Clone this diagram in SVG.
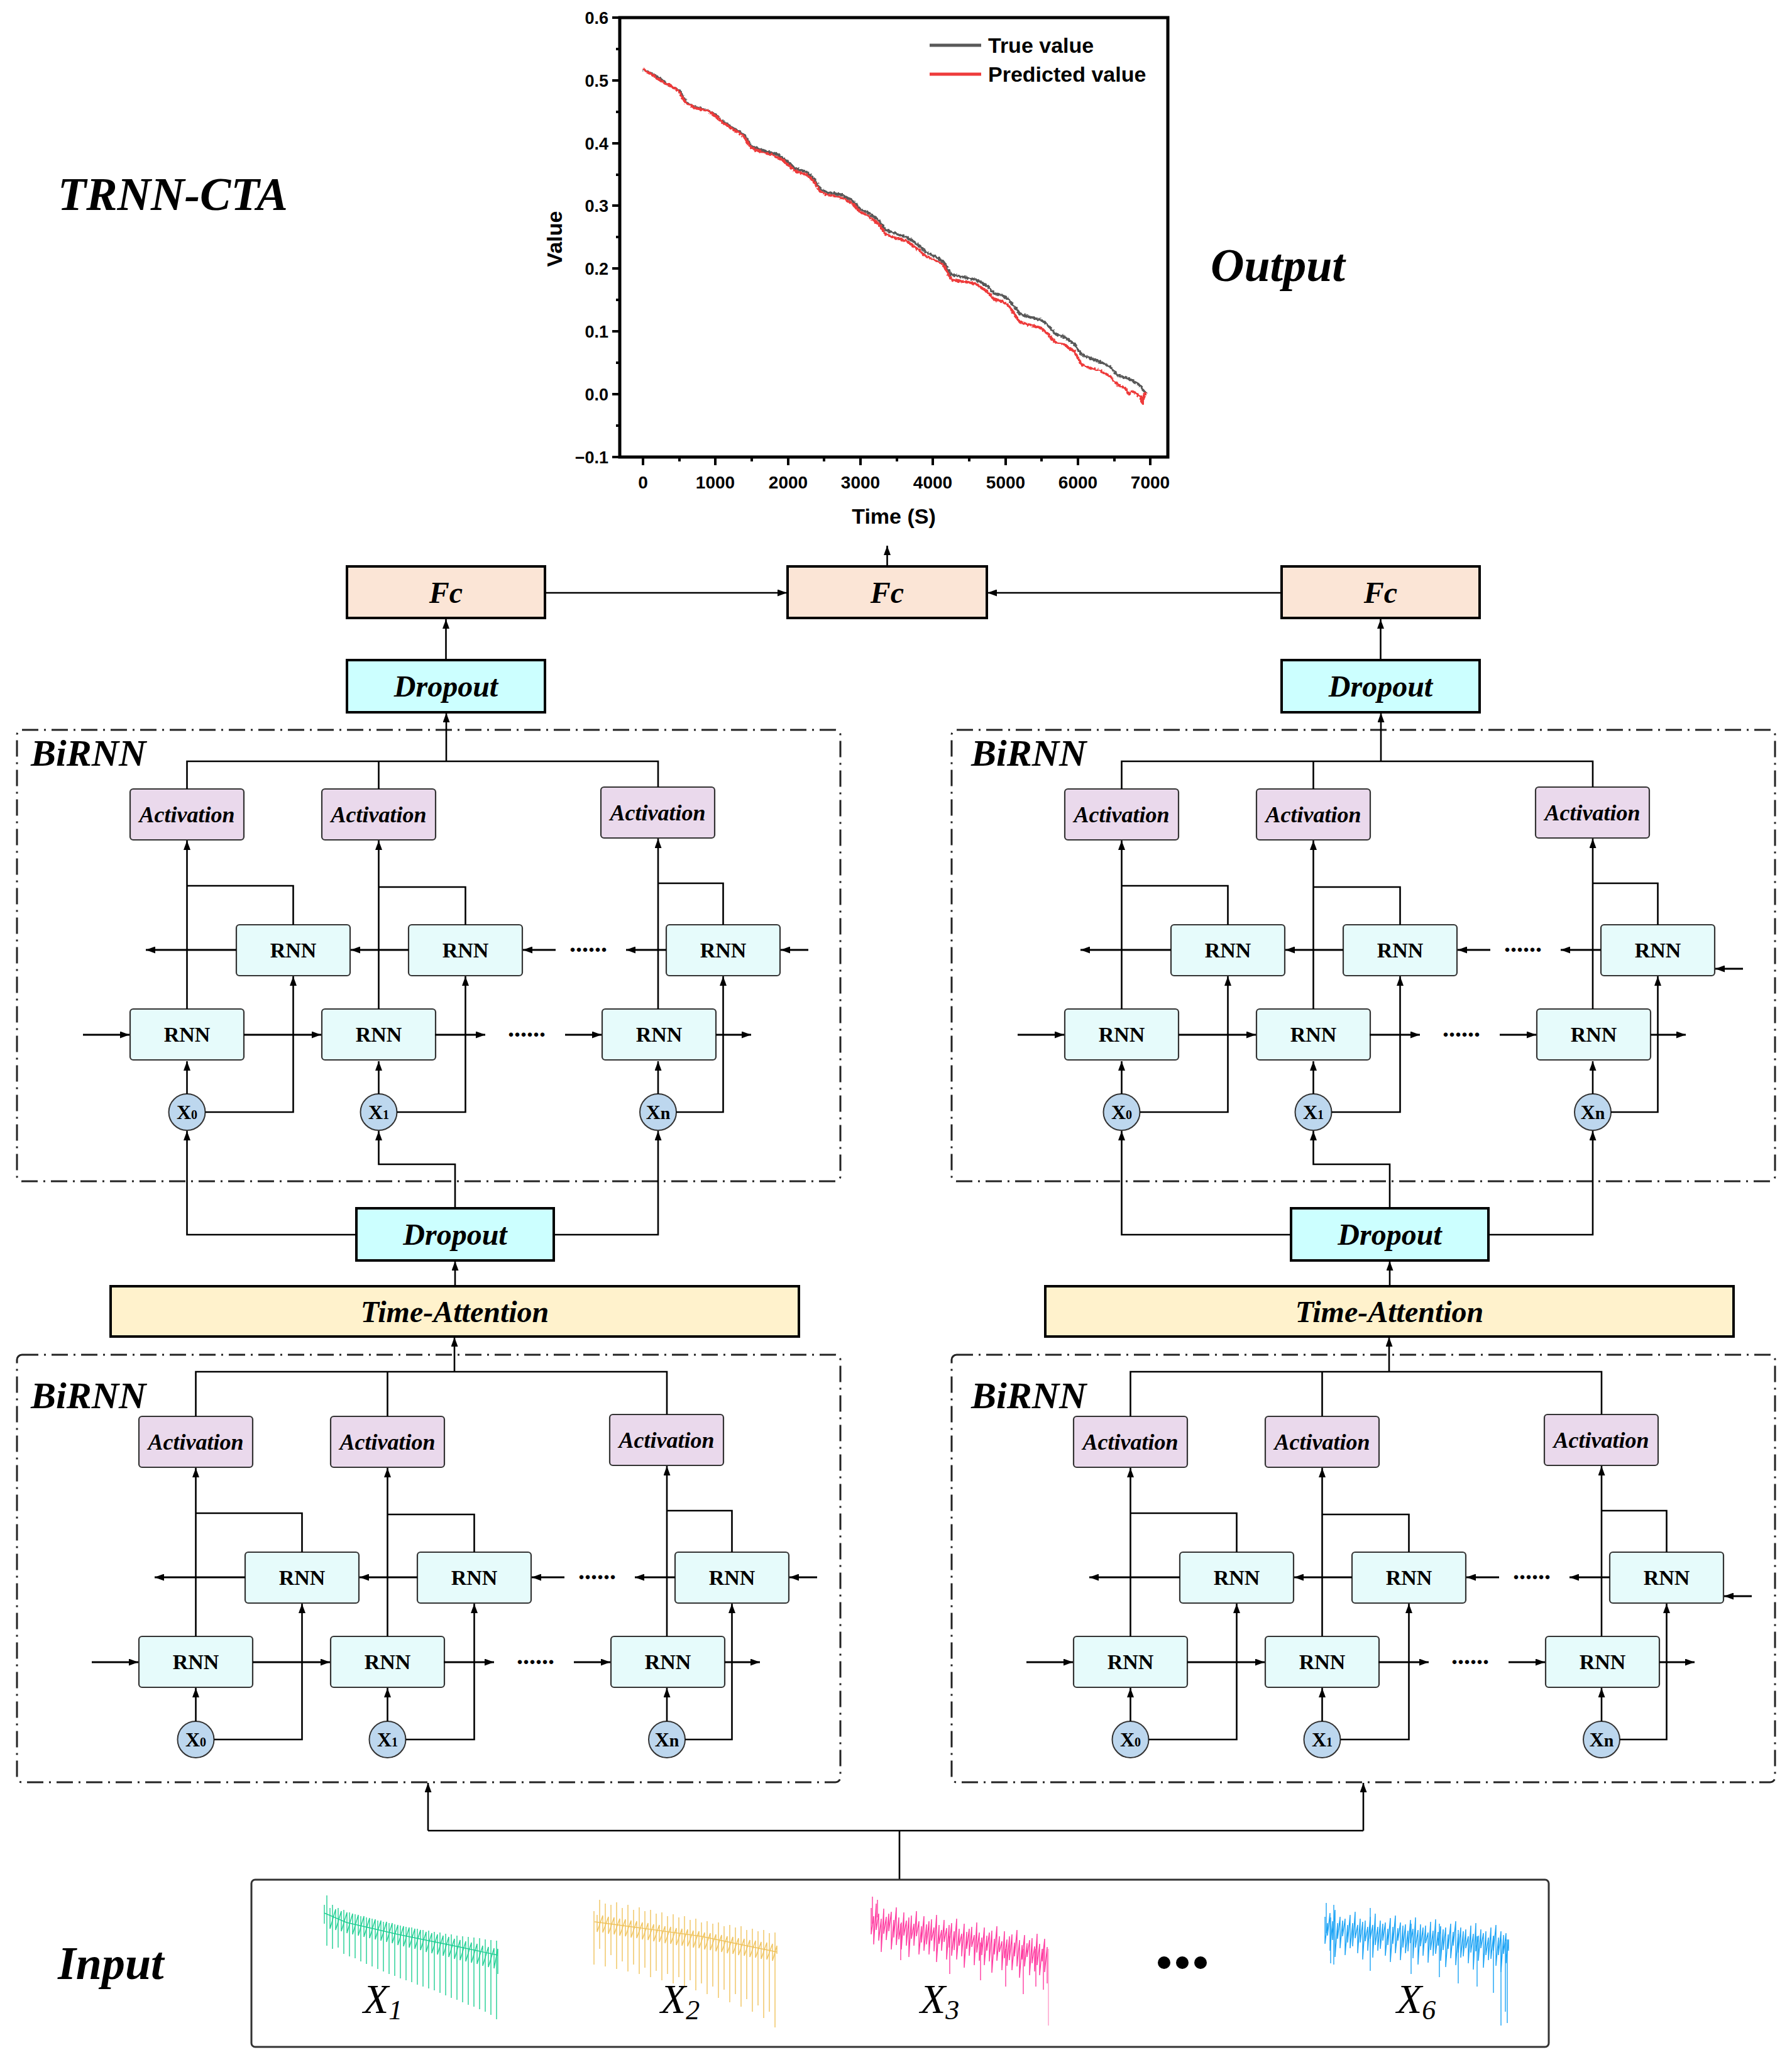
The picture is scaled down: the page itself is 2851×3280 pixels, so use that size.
<svg xmlns="http://www.w3.org/2000/svg" width="2851" height="3280" viewBox="0 0 2851 3280">
<defs>
<marker id="ah" markerWidth="15" markerHeight="11" refX="15" refY="5.5" orient="auto" markerUnits="userSpaceOnUse"><path d="M0,0 L15,5.5 L0,11 z" fill="#000"/></marker>
<filter id="jit" x="-5%" y="-5%" width="110%" height="110%"><feTurbulence type="fractalNoise" baseFrequency="0.3" numOctaves="1" seed="4"/><feDisplacementMap in="SourceGraphic" scale="6" xChannelSelector="R" yChannelSelector="G"/></filter>
</defs>
<style>
.bx{stroke:#000;stroke-width:4}
.fc{fill:#fbe5d6}
.dp{fill:#ccffff}
.ta{fill:#fff2cc}
.act{fill:#ead9ec;stroke:#333;stroke-width:2.2}
.rnn{fill:#e6fbfb;stroke:#333;stroke-width:2.2}
.xc{fill:#bdd7ee;stroke:#333;stroke-width:2}
.ln{fill:none;stroke:#000;stroke-width:2.6}
.th{stroke-width:3.2}
.arr{marker-end:url(#ah)}
.dash{fill:none;stroke:#222;stroke-width:3;stroke-dasharray:26 9 3 9}
.ss{font-family:"Liberation Sans",Arial,sans-serif;font-weight:bold}
.bt{font-family:"Liberation Serif",serif;font-weight:bold;font-style:italic;font-size:48px;text-anchor:middle}
.at{font-family:"Liberation Serif",serif;font-weight:bold;font-style:italic;font-size:36px;text-anchor:middle}
.rt{font-family:"Liberation Serif",serif;font-weight:bold;font-size:34px;text-anchor:middle}
.xt{font-family:"Liberation Serif",serif;font-weight:bold;font-size:32px;text-anchor:middle}
.bi{font-family:"Liberation Serif",serif;font-weight:bold;font-style:italic;font-size:60px}
.big{font-family:"Liberation Serif",serif;font-weight:bold;font-style:italic;font-size:74px}
.dots{font-family:"Liberation Serif",serif;font-weight:bold;font-size:40px}
.yl{font-family:"Liberation Sans",Arial,sans-serif;font-weight:bold;font-size:27px;text-anchor:end}
.xl{font-family:"Liberation Sans",Arial,sans-serif;font-weight:bold;font-size:28px;text-anchor:middle}
.inl{font-family:"Liberation Serif",serif;font-style:italic;font-size:66px;fill:#000;stroke:none}
.sg{fill:none;stroke-width:1.4;stroke-linejoin:miter}
</style>
<rect width="2851" height="3280" fill="#fff"/>

<!-- titles -->
<text class="big" x="92" y="334">TRNN-CTA</text>
<text class="big" x="1926" y="447">Output</text>
<text class="big" x="92" y="3148">Input</text>

<!-- plot -->
<g id="plot">
<rect x="986" y="28" width="872" height="699" fill="none" stroke="#000" stroke-width="5"/>
<path d="M986 28H974M986 128H974M986 228H974M986 327H974M986 427H974M986 527H974M986 627H974M986 727H974M986 78H980M986 178H980M986 278H980M986 377H980M986 477H980M986 577H980M986 677H980" stroke="#000" stroke-width="4" fill="none"/>
<path d="M1023 727V740M1138 727V740M1254 727V740M1369 727V740M1484 727V740M1600 727V740M1715 727V740M1830 727V740M1081 727V734M1196 727V734M1311 727V734M1427 727V734M1542 727V734M1657 727V734M1773 727V734" stroke="#000" stroke-width="4" fill="none"/>
<text class="yl" x="968" y="38">0.6</text>
<text class="yl" x="968" y="138">0.5</text>
<text class="yl" x="968" y="238">0.4</text>
<text class="yl" x="968" y="337">0.3</text>
<text class="yl" x="968" y="437">0.2</text>
<text class="yl" x="968" y="537">0.1</text>
<text class="yl" x="968" y="637">0.0</text>
<text class="yl" x="968" y="737">−0.1</text>
<text class="xl" x="1023" y="777">0</text>
<text class="xl" x="1138" y="777">1000</text>
<text class="xl" x="1254" y="777">2000</text>
<text class="xl" x="1369" y="777">3000</text>
<text class="xl" x="1484" y="777">4000</text>
<text class="xl" x="1600" y="777">5000</text>
<text class="xl" x="1715" y="777">6000</text>
<text class="xl" x="1830" y="777">7000</text>
<text class="ss" x="1422" y="833" font-size="34" text-anchor="middle">Time (S)</text>
<text class="ss" transform="translate(894,380) rotate(-90)" font-size="34" text-anchor="middle">Value</text>
<g filter="url(#jit)">
<polyline fill="none" stroke="#595959" stroke-width="4" stroke-linejoin="round" points="1023,111 1034.5,116 1046,123 1057.6,131 1069,138 1080.6,143 1092,163 1103.7,170 1126.8,176 1138.3,183 1149.8,193 1161.4,201 1172.9,208 1184.4,215 1196,233 1219,241 1236.3,245 1253.6,258 1265,268 1282.4,273 1294,283 1305.5,301 1317,306 1340,310 1357.4,320 1368.9,333 1380.4,338 1397.7,350 1409.3,366 1426.6,372 1443.9,378 1461.1,390 1472.7,401 1490,409 1501.5,417 1513,437 1524.6,439 1553.4,445 1570.7,455 1582.2,467 1593.7,469 1605.3,477 1622.6,499 1639.9,505 1657.2,509 1668.7,519 1680.2,532 1691.7,535 1709,547 1720.6,564 1732.1,569 1749.4,575 1766.7,584 1778.2,597 1795.5,602 1812.8,612 1824.3,627"/>
<polyline fill="none" stroke="#ee3b3b" stroke-width="4" stroke-linejoin="round" points="1023,109 1028,114 1034.5,117 1040,120 1046,125 1052,129 1057.6,133 1063,134 1069,138 1075,141 1080.6,146 1086,156 1092,165 1098,167 1103.7,171 1115,174 1126.8,176 1132,180 1138.3,185 1144,189 1149.8,195 1155,198 1161.4,203 1167,206 1172.9,210 1178,213 1184.4,218 1190,228 1196,236 1207,240 1219,244 1228,246 1236.3,250 1245,254 1253.6,262 1260,267 1265,272 1274,275 1282.4,278 1288,282 1294,288 1300,297 1305.5,305 1311,308 1317,310 1328,312 1340,315 1348,319 1357.4,325 1363,331 1368.9,338 1375,340 1380.4,343 1390,350 1397.7,356 1404,365 1409.3,373 1418,376 1426.6,379 1435,381 1443.9,384 1452,391 1461.1,397 1467,403 1472.7,407 1481,411 1490,415 1496,418 1501.5,422 1507,433 1513,444 1518,446 1524.6,447 1540,449 1553.4,452 1562,458 1570.7,464 1577,471 1582.2,477 1588,478 1593.7,479 1600,483 1605.3,487 1614,500 1622.6,512 1631,515 1639.9,517 1648,519 1657.2,522 1663,528 1668.7,532 1674,540 1680.2,545 1686,546 1691.7,547 1700,553 1709,559 1715,570 1720.6,579 1726,582 1732.1,585 1740,587 1749.4,589 1758,594 1766.7,599 1772,606 1778.2,612 1784,615 1789.7,617 1793,622 1795.5,627 1800,622 1807,625 1811,629 1815,630 1817,640 1818.6,642 1820,628 1824.3,625"/>
</g>
<line x1="1479" y1="72" x2="1561" y2="72" stroke="#595959" stroke-width="5"/>
<line x1="1479" y1="118" x2="1561" y2="118" stroke="#ee3b3b" stroke-width="5"/>
<text class="ss" x="1572" y="84" font-size="34">True value</text>
<text class="ss" x="1572" y="130" font-size="34">Predicted value</text>
</g>

<!-- ===== top level nodes ===== -->
<g id="fc-left"><rect class="bx fc" x="552" y="901" width="315" height="82"/><text class="bt" x="709.5" y="959">Fc</text></g>
<g id="fc-center"><rect class="bx fc" x="1253" y="901" width="317" height="82"/><text class="bt" x="1411.5" y="959">Fc</text></g>
<g id="fc-right"><rect class="bx fc" x="2039" y="901" width="315" height="82"/><text class="bt" x="2196.5" y="959">Fc</text></g>
<g id="dropout-top-left"><rect class="bx dp" x="552" y="1050" width="315" height="83"/><text class="bt" x="709.5" y="1108">Dropout</text></g>
<g id="dropout-top-right"><rect class="bx dp" x="2039" y="1050" width="315" height="83"/><text class="bt" x="2196.5" y="1108">Dropout</text></g>
<g id="dropout-mid-left"><rect class="bx dp" x="567" y="1922" width="314" height="83"/><text class="bt" x="724" y="1980">Dropout</text></g>
<g id="dropout-mid-right"><rect class="bx dp" x="2054" y="1922" width="314" height="83"/><text class="bt" x="2211" y="1980">Dropout</text></g>
<g id="ta-left"><rect class="bx ta" x="176" y="2046" width="1095" height="80"/><text class="bt" x="723.5" y="2103">Time-Attention</text></g>
<g id="ta-right"><rect class="bx ta" x="1663" y="2046" width="1095" height="80"/><text class="bt" x="2210.5" y="2103">Time-Attention</text></g>

<!-- ===== BiRNN containers ===== -->
<g id="birnn-ul"><rect class="dash" x="27" y="1161" width="1310" height="718" rx="8"/><text class="bi" x="49" y="1218">BiRNN</text></g>
<g id="birnn-ll"><rect class="dash" x="27" y="2155" width="1310" height="680" rx="8"/><text class="bi" x="49" y="2240">BiRNN</text></g>
<g id="birnn-ur"><rect class="dash" x="1514" y="1161" width="1310" height="718" rx="8"/><text class="bi" x="1545" y="1218">BiRNN</text></g>
<g id="birnn-lr"><rect class="dash" x="1514" y="2155" width="1310" height="680" rx="8"/><text class="bi" x="1545" y="2240">BiRNN</text></g>

<!-- ===== UL block nodes ===== -->
<g id="ul-a1"><rect class="act" x="207" y="1255" width="181" height="81" rx="5"/><text class="at" x="297.5" y="1308">Activation</text></g>
<g id="ul-a2"><rect class="act" x="512" y="1255" width="181" height="81" rx="5"/><text class="at" x="602.5" y="1308">Activation</text></g>
<g id="ul-a3"><rect class="act" x="956" y="1252" width="181" height="81" rx="5"/><text class="at" x="1046.5" y="1305">Activation</text></g>
<g id="ul-b1"><rect class="rnn" x="376" y="1471" width="181" height="81" rx="5"/><text class="rt" x="466.5" y="1523">RNN</text></g>
<g id="ul-b2"><rect class="rnn" x="650" y="1471" width="181" height="81" rx="5"/><text class="rt" x="740.5" y="1523">RNN</text></g>
<g id="ul-b3"><rect class="rnn" x="1060" y="1471" width="181" height="81" rx="5"/><text class="rt" x="1150.5" y="1523">RNN</text></g>
<g id="ul-f1"><rect class="rnn" x="207" y="1605" width="181" height="81" rx="5"/><text class="rt" x="297.5" y="1657">RNN</text></g>
<g id="ul-f2"><rect class="rnn" x="512" y="1605" width="181" height="81" rx="5"/><text class="rt" x="602.5" y="1657">RNN</text></g>
<g id="ul-f3"><rect class="rnn" x="958" y="1605" width="181" height="81" rx="5"/><text class="rt" x="1048.5" y="1657">RNN</text></g>
<g id="ul-x0"><circle class="xc" cx="297.5" cy="1769" r="29"/><text class="xt" x="297.5" y="1780">X<tspan font-size="20">0</tspan></text></g>
<g id="ul-x1"><circle class="xc" cx="602.5" cy="1769" r="29"/><text class="xt" x="602.5" y="1780">X<tspan font-size="20">1</tspan></text></g>
<g id="ul-xn"><circle class="xc" cx="1047" cy="1769" r="29"/><text class="xt" x="1047" y="1780">X<tspan font-size="28">n</tspan></text></g>

<!-- ===== LL block nodes ===== -->
<g id="ll-a1"><rect class="act" x="221" y="2253" width="181" height="81" rx="5"/><text class="at" x="311.5" y="2306">Activation</text></g>
<g id="ll-a2"><rect class="act" x="526" y="2253" width="181" height="81" rx="5"/><text class="at" x="616.5" y="2306">Activation</text></g>
<g id="ll-a3"><rect class="act" x="970" y="2250" width="181" height="81" rx="5"/><text class="at" x="1060.5" y="2303">Activation</text></g>
<g id="ll-b1"><rect class="rnn" x="390" y="2469" width="181" height="81" rx="5"/><text class="rt" x="480.5" y="2521">RNN</text></g>
<g id="ll-b2"><rect class="rnn" x="664" y="2469" width="181" height="81" rx="5"/><text class="rt" x="754.5" y="2521">RNN</text></g>
<g id="ll-b3"><rect class="rnn" x="1074" y="2469" width="181" height="81" rx="5"/><text class="rt" x="1164.5" y="2521">RNN</text></g>
<g id="ll-f1"><rect class="rnn" x="221" y="2603" width="181" height="81" rx="5"/><text class="rt" x="311.5" y="2655">RNN</text></g>
<g id="ll-f2"><rect class="rnn" x="526" y="2603" width="181" height="81" rx="5"/><text class="rt" x="616.5" y="2655">RNN</text></g>
<g id="ll-f3"><rect class="rnn" x="972" y="2603" width="181" height="81" rx="5"/><text class="rt" x="1062.5" y="2655">RNN</text></g>
<g id="ll-x0"><circle class="xc" cx="311.5" cy="2767" r="29"/><text class="xt" x="311.5" y="2778">X<tspan font-size="20">0</tspan></text></g>
<g id="ll-x1"><circle class="xc" cx="616.5" cy="2767" r="29"/><text class="xt" x="616.5" y="2778">X<tspan font-size="20">1</tspan></text></g>
<g id="ll-xn"><circle class="xc" cx="1061" cy="2767" r="29"/><text class="xt" x="1061" y="2778">X<tspan font-size="28">n</tspan></text></g>

<!-- ===== UR block nodes ===== -->
<g id="ur-a1"><rect class="act" x="1694" y="1255" width="181" height="81" rx="5"/><text class="at" x="1784.5" y="1308">Activation</text></g>
<g id="ur-a2"><rect class="act" x="1999" y="1255" width="181" height="81" rx="5"/><text class="at" x="2089.5" y="1308">Activation</text></g>
<g id="ur-a3"><rect class="act" x="2443" y="1252" width="181" height="81" rx="5"/><text class="at" x="2533.5" y="1305">Activation</text></g>
<g id="ur-b1"><rect class="rnn" x="1863" y="1471" width="181" height="81" rx="5"/><text class="rt" x="1953.5" y="1523">RNN</text></g>
<g id="ur-b2"><rect class="rnn" x="2137" y="1471" width="181" height="81" rx="5"/><text class="rt" x="2227.5" y="1523">RNN</text></g>
<g id="ur-b3"><rect class="rnn" x="2547" y="1471" width="181" height="81" rx="5"/><text class="rt" x="2637.5" y="1523">RNN</text></g>
<g id="ur-f1"><rect class="rnn" x="1694" y="1605" width="181" height="81" rx="5"/><text class="rt" x="1784.5" y="1657">RNN</text></g>
<g id="ur-f2"><rect class="rnn" x="1999" y="1605" width="181" height="81" rx="5"/><text class="rt" x="2089.5" y="1657">RNN</text></g>
<g id="ur-f3"><rect class="rnn" x="2445" y="1605" width="181" height="81" rx="5"/><text class="rt" x="2535.5" y="1657">RNN</text></g>
<g id="ur-x0"><circle class="xc" cx="1784.5" cy="1769" r="29"/><text class="xt" x="1784.5" y="1780">X<tspan font-size="20">0</tspan></text></g>
<g id="ur-x1"><circle class="xc" cx="2089.5" cy="1769" r="29"/><text class="xt" x="2089.5" y="1780">X<tspan font-size="20">1</tspan></text></g>
<g id="ur-xn"><circle class="xc" cx="2534" cy="1769" r="29"/><text class="xt" x="2534" y="1780">X<tspan font-size="28">n</tspan></text></g>

<!-- ===== LR block nodes ===== -->
<g id="lr-a1"><rect class="act" x="1708" y="2253" width="181" height="81" rx="5"/><text class="at" x="1798.5" y="2306">Activation</text></g>
<g id="lr-a2"><rect class="act" x="2013" y="2253" width="181" height="81" rx="5"/><text class="at" x="2103.5" y="2306">Activation</text></g>
<g id="lr-a3"><rect class="act" x="2457" y="2250" width="181" height="81" rx="5"/><text class="at" x="2547.5" y="2303">Activation</text></g>
<g id="lr-b1"><rect class="rnn" x="1877" y="2469" width="181" height="81" rx="5"/><text class="rt" x="1967.5" y="2521">RNN</text></g>
<g id="lr-b2"><rect class="rnn" x="2151" y="2469" width="181" height="81" rx="5"/><text class="rt" x="2241.5" y="2521">RNN</text></g>
<g id="lr-b3"><rect class="rnn" x="2561" y="2469" width="181" height="81" rx="5"/><text class="rt" x="2651.5" y="2521">RNN</text></g>
<g id="lr-f1"><rect class="rnn" x="1708" y="2603" width="181" height="81" rx="5"/><text class="rt" x="1798.5" y="2655">RNN</text></g>
<g id="lr-f2"><rect class="rnn" x="2013" y="2603" width="181" height="81" rx="5"/><text class="rt" x="2103.5" y="2655">RNN</text></g>
<g id="lr-f3"><rect class="rnn" x="2459" y="2603" width="181" height="81" rx="5"/><text class="rt" x="2549.5" y="2655">RNN</text></g>
<g id="lr-x0"><circle class="xc" cx="1798.5" cy="2767" r="29"/><text class="xt" x="1798.5" y="2778">X<tspan font-size="20">0</tspan></text></g>
<g id="lr-x1"><circle class="xc" cx="2103.5" cy="2767" r="29"/><text class="xt" x="2103.5" y="2778">X<tspan font-size="20">1</tspan></text></g>
<g id="lr-xn"><circle class="xc" cx="2548" cy="2767" r="29"/><text class="xt" x="2548" y="2778">X<tspan font-size="28">n</tspan></text></g>

<!-- ===== connectors ===== -->
<g id="connectors">
<path class="ln arr" d="M709.5 1050V985"/>
<path class="ln arr" d="M2196.5 1050V985"/>
<path class="ln arr" d="M867 943H1252"/>
<path class="ln arr" d="M2039 943H1571"/>
<path class="ln arr" d="M1411.5 901V868"/>
<!-- UL -->
<path class="ln" d="M466.5 1471V1409H297.5M740.5 1471V1411H602.5M1150.5 1471V1405H1047M297.5 1255V1211H1047V1252M602.5 1255V1211"/>
<path class="ln arr" d="M297.5 1740V1688"/>
<path class="ln arr" d="M297.5 1605V1337"/>
<path class="ln arr" d="M326.5 1769H466.5V1553"/>
<path class="ln arr" d="M602.5 1740V1688"/>
<path class="ln arr" d="M602.5 1605V1337"/>
<path class="ln arr" d="M631.5 1769H740.5V1553"/>
<path class="ln arr" d="M1047 1740V1688"/>
<path class="ln arr" d="M1047 1605V1334"/>
<path class="ln arr" d="M1076 1769H1150.5V1553"/>
<path class="ln arr" d="M710 1211V1134"/>
<path class="ln th arr" d="M376 1511H232"/>
<path class="ln th arr" d="M650 1511H558"/>
<path class="ln th arr" d="M884 1511H832"/>
<path class="ln th arr" d="M1060 1511H996"/>
<path class="ln th arr" d="M1286 1511H1242"/>
<path class="ln th arr" d="M132 1646H206"/>
<path class="ln th arr" d="M388 1646H511"/>
<path class="ln th arr" d="M692 1646H772"/>
<path class="ln th arr" d="M899 1646H957"/>
<path class="ln th arr" d="M1139 1646H1195"/>
<path class="ln arr" d="M724 1922V1852H602.5V1799"/>
<path class="ln arr" d="M567 1964H297.5V1799"/>
<path class="ln arr" d="M881 1964H1047V1799"/>
<path class="ln arr" d="M724 2046V2006"/>
<!-- LL -->
<path class="ln" d="M480.5 2469V2407H311.5M754.5 2469V2409H616.5M1164.5 2469V2403H1061M311.5 2253V2182H1061V2250M616.5 2253V2182"/>
<path class="ln arr" d="M311.5 2738V2685"/>
<path class="ln arr" d="M311.5 2603V2335"/>
<path class="ln arr" d="M340.5 2767H480.5V2551"/>
<path class="ln arr" d="M616.5 2738V2685"/>
<path class="ln arr" d="M616.5 2603V2335"/>
<path class="ln arr" d="M645.5 2767H754.5V2551"/>
<path class="ln arr" d="M1061 2738V2685"/>
<path class="ln arr" d="M1061 2603V2332"/>
<path class="ln arr" d="M1090 2767H1164.5V2551"/>
<path class="ln arr" d="M723 2182V2127"/>
<path class="ln th arr" d="M390 2509H246"/>
<path class="ln th arr" d="M664 2509H572"/>
<path class="ln th arr" d="M898 2509H846"/>
<path class="ln th arr" d="M1074 2509H1010"/>
<path class="ln th arr" d="M1300 2509H1256"/>
<path class="ln th arr" d="M146 2644H220"/>
<path class="ln th arr" d="M402 2644H525"/>
<path class="ln th arr" d="M706 2644H786"/>
<path class="ln th arr" d="M913 2644H971"/>
<path class="ln th arr" d="M1153 2644H1209"/>
<!-- UR -->
<path class="ln" d="M1953.5 1471V1409H1784.5M2227.5 1471V1411H2089.5M2637.5 1471V1405H2534M1784.5 1255V1211H2534V1252M2089.5 1255V1211"/>
<path class="ln arr" d="M1784.5 1740V1688"/>
<path class="ln arr" d="M1784.5 1605V1337"/>
<path class="ln arr" d="M1813.5 1769H1953.5V1553"/>
<path class="ln arr" d="M2089.5 1740V1688"/>
<path class="ln arr" d="M2089.5 1605V1337"/>
<path class="ln arr" d="M2118.5 1769H2227.5V1553"/>
<path class="ln arr" d="M2534 1740V1688"/>
<path class="ln arr" d="M2534 1605V1334"/>
<path class="ln arr" d="M2563 1769H2637.5V1553"/>
<path class="ln arr" d="M2197 1211V1134"/>
<path class="ln th arr" d="M1863 1511H1719"/>
<path class="ln th arr" d="M2137 1511H2045"/>
<path class="ln th arr" d="M2371 1511H2319"/>
<path class="ln th arr" d="M2547 1511H2483"/>
<path class="ln th arr" d="M2773 1541H2729"/>
<path class="ln th arr" d="M1619 1646H1693"/>
<path class="ln th arr" d="M1875 1646H1998"/>
<path class="ln th arr" d="M2179 1646H2259"/>
<path class="ln th arr" d="M2386 1646H2444"/>
<path class="ln th arr" d="M2626 1646H2682"/>
<path class="ln arr" d="M2211 1922V1852H2089.5V1799"/>
<path class="ln arr" d="M2054 1964H1784.5V1799"/>
<path class="ln arr" d="M2368 1964H2534V1799"/>
<path class="ln arr" d="M2211 2046V2006"/>
<!-- LR -->
<path class="ln" d="M1967.5 2469V2407H1798.5M2241.5 2469V2409H2103.5M2651.5 2469V2403H2548M1798.5 2253V2182H2548V2250M2103.5 2253V2182"/>
<path class="ln arr" d="M1798.5 2738V2685"/>
<path class="ln arr" d="M1798.5 2603V2335"/>
<path class="ln arr" d="M1827.5 2767H1967.5V2551"/>
<path class="ln arr" d="M2103.5 2738V2685"/>
<path class="ln arr" d="M2103.5 2603V2335"/>
<path class="ln arr" d="M2132.5 2767H2241.5V2551"/>
<path class="ln arr" d="M2548 2738V2685"/>
<path class="ln arr" d="M2548 2603V2332"/>
<path class="ln arr" d="M2577 2767H2651.5V2551"/>
<path class="ln arr" d="M2210 2182V2127"/>
<path class="ln th arr" d="M1877 2509H1733"/>
<path class="ln th arr" d="M2151 2509H2059"/>
<path class="ln th arr" d="M2385 2509H2333"/>
<path class="ln th arr" d="M2561 2509H2497"/>
<path class="ln th arr" d="M2787 2539H2743"/>
<path class="ln th arr" d="M1633 2644H1707"/>
<path class="ln th arr" d="M1889 2644H2012"/>
<path class="ln th arr" d="M2193 2644H2273"/>
<path class="ln th arr" d="M2400 2644H2458"/>
<path class="ln th arr" d="M2640 2644H2696"/>
<!-- input distribution -->
<path class="ln" d="M1431 2990V2912M681 2912H2169"/>
<path class="ln arr" d="M681 2912V2836"/>
<path class="ln arr" d="M2169 2912V2836"/>
</g>

<!-- ellipsis dots inside blocks -->
<text class="dots" x="808" y="1649">......</text>
<text class="dots" x="906" y="1514">......</text>
<text class="dots" x="822" y="2647">......</text>
<text class="dots" x="920" y="2512">......</text>
<text class="dots" x="2295" y="1649">......</text>
<text class="dots" x="2393" y="1514">......</text>
<text class="dots" x="2309" y="2647">......</text>
<text class="dots" x="2407" y="2512">......</text>

<!-- ===== input node ===== -->
<g id="input">
<rect x="400" y="2990" width="2064" height="266" rx="6" fill="none" stroke="#333" stroke-width="3"/>
<g id="sig-x1">
<g stroke="#1fcf93">
<polyline class="sg" stroke-width="2" points="516,3043 551,3058 633,3077 731,3097 792,3110"/>
<path class="sg" d="M520 3015V3095M529 3030V3100M538 3035V3098M547 3038V3108M556 3042V3112M565 3045V3115M574 3048V3120M583 3050V3124M592 3052V3128M601 3055V3132M610 3057V3136M619 3059V3140M628 3061V3143M637 3063V3147M646 3065V3150M655 3066V3153M664 3068V3157M673 3070V3160M682 3071V3163M691 3073V3166M700 3074V3170M709 3076V3174M718 3077V3178M727 3079V3181M736 3080V3185M745 3081V3189M754 3082V3192M763 3083V3196M772 3085V3200M781 3086V3205M790 3087V3212"/>
<path class="sg" d="M516 3030V3060M525 3035V3068L534 3037V3070L543 3040V3072L552 3042V3075L561 3044V3077L570 3046V3079L579 3048V3081L588 3051V3083L597 3053V3085L606 3055V3087L615 3057V3089L624 3059V3091L633 3062V3094L642 3064V3096L651 3066V3098L660 3068V3100L669 3070V3102L678 3073V3105L687 3075V3107L696 3077V3109L705 3079V3111L714 3081V3113L723 3084V3116L732 3086V3118L741 3088V3120L750 3090V3122L759 3092V3124L768 3095V3127L777 3097V3129L786 3099V3131L792 3100V3140"/>
</g>
<text class="inl" x="578" y="3202">X<tspan font-size="44" dy="10">1</tspan></text>
</g>
<g id="sig-x2">
<g stroke="#f0c35c">
<polyline class="sg" stroke-width="2" points="946,3057 1013,3066 1115,3080 1236,3105"/>
<path class="sg" d="M945 3040V3125M954 3022V3100M963 3028V3128M972 3030V3110M981 3026V3132M990 3035V3120M999 3030V3136M1008 3038V3125M1017 3034V3140M1026 3040V3130M1035 3038V3145M1044 3044V3135M1053 3042V3150M1062 3048V3140M1071 3045V3155M1080 3050V3145M1089 3048V3160M1098 3054V3150M1107 3052V3166M1116 3058V3155M1125 3056V3172M1134 3060V3160M1143 3058V3178M1152 3064V3165M1161 3062V3185M1170 3066V3172M1179 3064V3192M1188 3070V3180M1197 3068V3200M1206 3072V3190M1215 3070V3210M1224 3075V3200M1233 3074V3225"/>
<path class="sg" d="M950 3046V3073L959 3047V3074L968 3049V3076L977 3050V3077L986 3052V3079L995 3053V3080L1004 3055V3082L1013 3056V3083L1022 3058V3085L1031 3059V3086L1040 3061V3088L1049 3062V3089L1058 3064V3091L1067 3065V3092L1076 3067V3094L1085 3068V3095L1094 3069V3096L1103 3071V3098L1112 3072V3099L1121 3074V3101L1130 3075V3102L1139 3077V3104L1148 3078V3105L1157 3080V3107L1166 3081V3108L1175 3083V3110L1184 3084V3111L1193 3086V3113L1202 3087V3114L1211 3089V3116L1220 3090V3117L1229 3092V3119L1236 3095V3108"/>
</g>
<text class="inl" x="1051" y="3202">X<tspan font-size="44" dy="10">2</tspan></text>
</g>
<g id="sig-x3">
<g stroke="#ff3aa0">
<path class="sg" stroke-width="1.3" d="M1386 3035V3077L1390 3048V3093L1394 3028V3070L1398 3044V3087L1402 3052V3105L1406 3036V3076L1410 3049V3086L1414 3044V3072L1418 3041V3101L1422 3054V3082L1426 3034V3094L1430 3050V3085L1434 3058V3101L1438 3042V3079L1442 3055V3095L1446 3050V3113L1450 3047V3084L1454 3060V3095L1458 3040V3080L1462 3056V3109L1466 3064V3090L1470 3048V3103L1474 3061V3093L1478 3056V3109L1482 3053V3087L1486 3066V3104L1490 3046V3121L1494 3062V3092L1498 3070V3103L1502 3054V3089L1506 3067V3117L1510 3062V3098L1514 3059V3111L1518 3072V3102L1522 3052V3117L1526 3068V3095L1530 3076V3112L1534 3060V3130L1538 3073V3100L1542 3068V3111L1546 3065V3097L1550 3078V3126L1554 3058V3106L1558 3074V3119L1562 3082V3110L1566 3066V3126L1570 3079V3103L1574 3074V3120L1578 3071V3138L1582 3084V3109L1586 3064V3119L1590 3080V3105L1594 3088V3134L1598 3072V3115L1602 3085V3127L1606 3080V3118L1610 3077V3134L1614 3090V3112L1618 3070V3128L1622 3086V3146L1626 3094V3117L1630 3078V3128L1634 3091V3113L1638 3086V3142L1642 3083V3123L1646 3096V3136L1650 3076V3126L1654 3092V3142L1658 3100V3120L1662 3084V3137L1666 3097V3155"/>
<path class="sg" stroke-width="1.2" d="M1388 3017V3060M1396 3022V3050M1433 3060V3118M1511 3080V3140M1560 3090V3150M1600 3100V3160M1628 3100V3172M1648 3100V3160M1660 3100V3165"/>
<path class="sg" stroke="#ff9cc9" stroke-width="1" d="M1668 3100V3222"/>
</g>
<text class="inl" x="1464" y="3202">X<tspan font-size="44" dy="10">3</tspan></text>
</g>
<g id="ellipsis">
<circle cx="1852" cy="3122" r="10" fill="#000"/>
<circle cx="1881" cy="3122" r="10" fill="#000"/>
<circle cx="1910" cy="3122" r="10" fill="#000"/>
</g>
<g id="sig-x6">
<g stroke="#1aa3f5">
<path class="sg" stroke-width="1.2" d="M2108 3049V3092L2112 3059V3079L2116 3043V3103L2120 3056V3086L2124 3038V3113L2128 3059V3084L2132 3049V3099L2136 3055V3080L2140 3052V3110L2144 3062V3090L2148 3046V3099L2152 3059V3096L2156 3041V3083L2160 3062V3107L2164 3052V3090L2168 3057V3117L2172 3055V3088L2176 3065V3103L2180 3049V3084L2184 3062V3114L2188 3044V3094L2192 3065V3103L2196 3055V3100L2200 3060V3087L2204 3058V3111L2208 3068V3094L2212 3051V3121L2216 3065V3092L2220 3047V3107L2224 3067V3087L2228 3058V3118L2232 3063V3098L2236 3061V3107L2240 3071V3104L2244 3054V3091L2248 3068V3115L2252 3050V3098L2256 3070V3125L2260 3061V3096L2264 3066V3111L2268 3063V3091L2272 3074V3122L2276 3057V3102L2280 3071V3111L2284 3053V3108L2288 3073V3095L2292 3064V3119L2296 3069V3102L2300 3066V3129L2304 3077V3100L2308 3060V3115L2312 3073V3095L2316 3056V3126L2320 3076V3106L2324 3066V3114L2328 3072V3112L2332 3069V3099L2336 3080V3123L2340 3063V3106L2344 3076V3133L2348 3059V3104L2352 3079V3119L2356 3069V3099L2360 3075V3130L2364 3072V3110L2368 3082V3118L2372 3066V3116L2376 3079V3103L2380 3062V3127L2384 3082V3110L2388 3072V3137L2392 3078V3108L2396 3075V3123L2400 3085V3103"/>
<path class="sg" stroke-width="1.2" d="M2110 3027V3075M2117 3050V3123M2122 3030V3125M2180 3035V3135M2245 3060V3140M2290 3060V3145M2320 3070V3155M2350 3080V3160M2376 3080V3170M2388 3085V3222M2395 3090V3200M2398 3085V3218"/>
</g>
<text class="inl" x="2222" y="3202">X<tspan font-size="44" dy="10">6</tspan></text>
</g>
</g>
</svg>
